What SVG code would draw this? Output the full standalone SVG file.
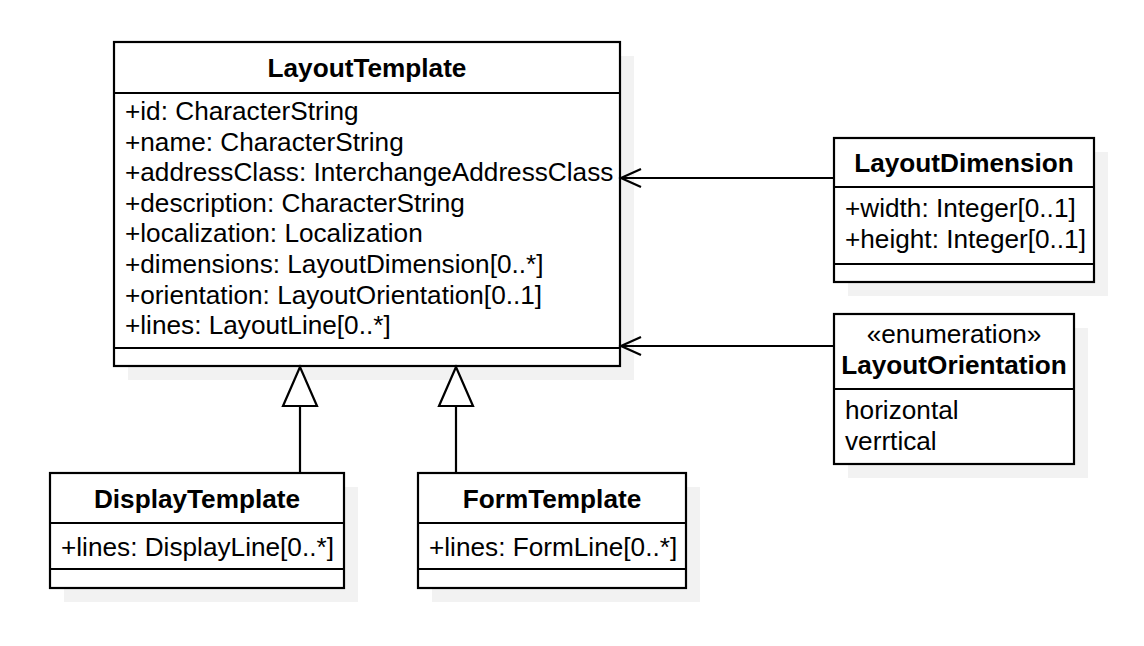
<svg xmlns="http://www.w3.org/2000/svg" width="1144" height="646" viewBox="0 0 1144 646">
<style>
.shadow{fill:#f2f2f2;stroke:none}
.box{fill:#ffffff;stroke:#000000;stroke-width:2.2}
.div{stroke:#000000;stroke-width:2.2}
.t{font-family:"Liberation Sans",Arial,sans-serif;font-size:26.2px;fill:#000000}
.b{font-weight:bold;text-anchor:middle}
.c{text-anchor:middle}
.edge{fill:none;stroke:#000000;stroke-width:2.2}
.tri{fill:#ffffff;stroke:#000000;stroke-width:2.2;stroke-linejoin:miter}
</style>
<rect width="1144" height="646" fill="#ffffff"/>
<g id="shadows">
<rect class="shadow" x="128" y="56" width="506" height="324"/>
<rect class="shadow" x="848" y="152" width="260" height="144"/>
<rect class="shadow" x="848" y="328" width="240" height="150"/>
<rect class="shadow" x="64" y="487" width="294" height="115"/>
<rect class="shadow" x="432" y="487" width="268" height="115"/>
</g>
<g id="LayoutTemplate">
<rect class="box" x="114" y="42" width="506" height="324"/>
<line class="div" x1="114" y1="93" x2="620" y2="93"/>
<line class="div" x1="114" y1="348" x2="620" y2="348"/>
<text class="t b" x="367" y="77">LayoutTemplate</text>
<text class="t" x="125" y="120">+id: CharacterString</text>
<text class="t" x="125" y="150.6">+name: CharacterString</text>
<text class="t" x="125" y="181.2">+addressClass: InterchangeAddressClass</text>
<text class="t" x="125" y="211.8">+description: CharacterString</text>
<text class="t" x="125" y="242.4">+localization: Localization</text>
<text class="t" x="125" y="273">+dimensions: LayoutDimension[0..*]</text>
<text class="t" x="125" y="303.6">+orientation: LayoutOrientation[0..1]</text>
<text class="t" x="125" y="334.2">+lines: LayoutLine[0..*]</text>
</g>
<g id="LayoutDimension">
<rect class="box" x="834" y="138" width="260" height="144"/>
<line class="div" x1="834" y1="187" x2="1094" y2="187"/>
<line class="div" x1="834" y1="264" x2="1094" y2="264"/>
<text class="t b" x="964" y="172">LayoutDimension</text>
<text class="t" x="845" y="217">+width: Integer[0..1]</text>
<text class="t" x="845" y="247.6">+height: Integer[0..1]</text>
</g>
<g id="LayoutOrientation">
<rect class="box" x="834" y="314" width="240" height="150"/>
<line class="div" x1="834" y1="389" x2="1074" y2="389"/>
<text class="t c" x="954" y="343">«enumeration»</text>
<text class="t b" x="954" y="373.5">LayoutOrientation</text>
<text class="t" x="845" y="419">horizontal</text>
<text class="t" x="845" y="449.6">verrtical</text>
</g>
<g id="DisplayTemplate">
<rect class="box" x="50" y="473" width="294" height="115"/>
<line class="div" x1="50" y1="523" x2="344" y2="523"/>
<line class="div" x1="50" y1="569" x2="344" y2="569"/>
<text class="t b" x="197" y="507.5">DisplayTemplate</text>
<text class="t" x="61" y="555.5">+lines: DisplayLine[0..*]</text>
</g>
<g id="FormTemplate">
<rect class="box" x="418" y="473" width="268" height="115"/>
<line class="div" x1="418" y1="523" x2="686" y2="523"/>
<line class="div" x1="418" y1="569" x2="686" y2="569"/>
<text class="t b" x="552" y="507.5">FormTemplate</text>
<text class="t" x="429" y="555.5">+lines: FormLine[0..*]</text>
</g>
<g id="connectors">
<line class="edge" x1="834" y1="178" x2="621" y2="178"/>
<polyline class="edge" points="641,169 621,178 641,187"/>
<line class="edge" x1="834" y1="346" x2="621" y2="346"/>
<polyline class="edge" points="641,337 621,346 641,355"/>
<line class="edge" x1="300" y1="473" x2="300" y2="406"/>
<polygon class="tri" points="300,367 283,406 317,406"/>
<line class="edge" x1="456" y1="473" x2="456" y2="406"/>
<polygon class="tri" points="456,367 439,406 473,406"/>
</g>
</svg>
